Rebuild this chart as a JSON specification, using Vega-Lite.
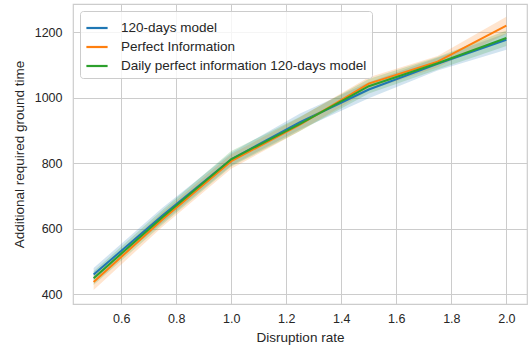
{
  "$schema": "https://vega.github.io/schema/vega-lite/v6.json",
  "autosize": {"type": "none"},
  "width": 454,
  "height": 300,
  "padding": {"left": 73, "top": 4, "right": 3, "bottom": 45},
  "background": "white",
  "config": {
    "font": "Liberation Sans",
    "view": {"stroke": "#cccccc", "strokeWidth": 1.2},
    "axis": {
      "grid": true, "gridColor": "#cccccc", "gridWidth": 1, "domain": false, "ticks": false,
      "labelColor": "#262626", "titleColor": "#262626", "labelFontSize": 12.5, "titleFontSize": 13.5,
      "titleFontWeight": "normal"
    }
  },
  "data": {"values": [
    {"rate": 0.5, "model": "120-days model", "value": 460, "lo": 443, "hi": 480},
    {"rate": 0.75, "model": "120-days model", "value": 640, "lo": 618, "hi": 664},
    {"rate": 1.0, "model": "120-days model", "value": 812, "lo": 793, "hi": 832},
    {"rate": 1.25, "model": "120-days model", "value": 925, "lo": 903, "hi": 952},
    {"rate": 1.5, "model": "120-days model", "value": 1025, "lo": 998, "hi": 1047},
    {"rate": 1.75, "model": "120-days model", "value": 1103, "lo": 1083, "hi": 1122},
    {"rate": 2.0, "model": "120-days model", "value": 1177, "lo": 1146, "hi": 1197},
    {"rate": 0.5, "model": "Perfect Information", "value": 437, "lo": 413, "hi": 457},
    {"rate": 0.75, "model": "Perfect Information", "value": 628, "lo": 606, "hi": 650},
    {"rate": 1.0, "model": "Perfect Information", "value": 806, "lo": 783, "hi": 827},
    {"rate": 1.25, "model": "Perfect Information", "value": 918, "lo": 898, "hi": 940},
    {"rate": 1.5, "model": "Perfect Information", "value": 1043, "lo": 1023, "hi": 1062},
    {"rate": 1.75, "model": "Perfect Information", "value": 1110, "lo": 1093, "hi": 1127},
    {"rate": 2.0, "model": "Perfect Information", "value": 1220, "lo": 1195, "hi": 1247},
    {"rate": 0.5, "model": "Daily perfect information 120-days model", "value": 449, "lo": 428, "hi": 470},
    {"rate": 0.75, "model": "Daily perfect information 120-days model", "value": 635, "lo": 613, "hi": 657},
    {"rate": 1.0, "model": "Daily perfect information 120-days model", "value": 812, "lo": 790, "hi": 837},
    {"rate": 1.25, "model": "Daily perfect information 120-days model", "value": 920, "lo": 898, "hi": 942},
    {"rate": 1.5, "model": "Daily perfect information 120-days model", "value": 1035, "lo": 1013, "hi": 1057},
    {"rate": 1.75, "model": "Daily perfect information 120-days model", "value": 1105, "lo": 1086, "hi": 1124},
    {"rate": 2.0, "model": "Daily perfect information 120-days model", "value": 1182, "lo": 1158, "hi": 1205}
  ]},
  "encoding": {
    "x": {"field": "rate", "type": "quantitative", "title": "Disruption rate",
      "scale": {"domain": [0.425, 2.075], "nice": false, "zero": false},
      "axis": {"values": [0.6, 0.8, 1.0, 1.2, 1.4, 1.6, 1.8, 2.0], "format": ".1f", "labelPadding": 8, "titlePadding": 6}},
    "color": {"field": "model", "type": "nominal",
      "scale": {"domain": ["120-days model", "Perfect Information", "Daily perfect information 120-days model"],
        "range": ["#1f77b4", "#ff7f0e", "#2ca02c"]},
      "legend": {"title": null, "orient": "none", "legendX": 7, "legendY": 7,
        "symbolType": "stroke", "symbolSize": 450, "symbolStrokeWidth": 2.2, "symbolOpacity": 1,
        "labelFontSize": 13.5, "labelColor": "#262626", "labelOffset": 12, "labelLimit": 400,
        "rowPadding": -4, "padding": 5,
        "fillColor": "rgba(255,255,255,0.8)", "strokeColor": "#cccccc", "cornerRadius": 3}}
  },
  "layer": [
    {
      "mark": {"type": "area", "opacity": 0.2},
      "encoding": {
        "y": {"field": "lo", "type": "quantitative"},
        "y2": {"field": "hi"}
      }
    },
    {
      "mark": {"type": "line", "strokeWidth": 2},
      "encoding": {
        "y": {"field": "value", "type": "quantitative", "title": "Additional required ground time",
          "scale": {"domain": [370, 1286], "nice": false, "zero": false},
          "axis": {"values": [400, 600, 800, 1000, 1200], "format": "d", "labelPadding": 11, "titlePadding": 8}}
      }
    }
  ]
}
